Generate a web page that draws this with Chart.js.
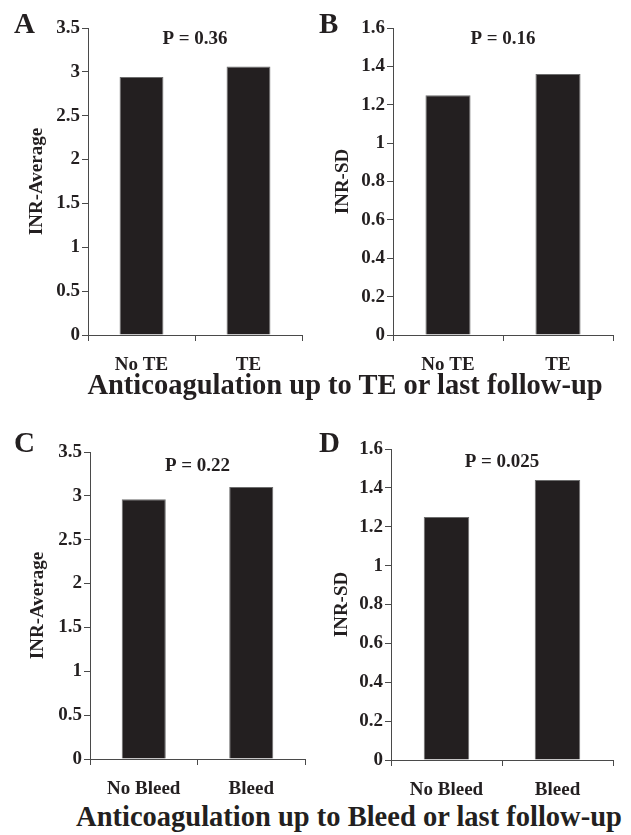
<!doctype html>
<html>
<head>
<title>INR bars</title>
<script src="https://cdn.jsdelivr.net/npm/chart.js@4.4.0/dist/chart.umd.min.js"></script>
<style>
body { margin: 0; background: #fff; }
#wrap { position: relative; width: 631px; height: 835px; background: #fff; font-family: "Liberation Serif", "Times New Roman", serif; color: #231f20; }
.panel { position: absolute; }
.letter { position: absolute; font-size: 29px; line-height: 29px; font-weight: bold; }
.title { position: absolute; font-size: 28.5px; line-height: 28.5px; font-weight: bold; text-align: center; white-space: nowrap; }
</style>
</head>
<body>
<div id="wrap">
    <div class="panel" style="left:0;top:0"><canvas id="chartA" width="310" height="372"></canvas></div>
    <div class="panel" style="left:310px;top:0"><canvas id="chartB" width="321" height="372"></canvas></div>
    <div class="panel" style="left:0;top:420px"><canvas id="chartC" width="310" height="375"></canvas></div>
    <div class="panel" style="left:310px;top:420px"><canvas id="chartD" width="321" height="375"></canvas></div>
    <div class="letter" style="left:14px;top:9px">A</div>
    <div class="letter" style="left:319px;top:9px">B</div>
    <div class="letter" style="left:14px;top:428px">C</div>
    <div class="letter" style="left:319px;top:428px">D</div>
    <div class="title" style="left:59px;width:572px;top:371px">Anticoagulation up to TE or last follow-up</div>
    <div class="title" style="left:67px;width:564px;top:803px">Anticoagulation up to Bleed or last follow-up</div>
</div>
<script>
// data
var teLabels = ["No TE", "TE"];
var bleedLabels = ["No Bleed", "Bleed"];
var avgTE = [2.94, 3.06];
var sdTE = [1.25, 1.36];
var avgBleed = [2.96, 3.10];
var sdBleed = [1.25, 1.44];
var avgTicks = [0, 0.5, 1, 1.5, 2, 2.5, 3, 3.5];
var sdTicks = [0, 0.2, 0.4, 0.6, 0.8, 1, 1.2, 1.4, 1.6];
var pValues = ["P = 0.36", "P = 0.16", "P = 0.22", "P = 0.025"];

var ink = '#231f20';
var axisColor = '#4a4a4a';
var fontName = "'Liberation Serif', 'Times New Roman', serif";

// P value text drawn inside the plot area
var pTextPlugin = {
    id: 'pText',
    afterDraw: function(chart, args, opts) {
        var ctx = chart.ctx, area = chart.chartArea;
        ctx.save();
        ctx.font = 'bold 19px ' + fontName;
        ctx.fillStyle = ink;
        ctx.textAlign = 'center';
        ctx.textBaseline = 'middle';
        ctx.fillText(opts.text, (area.left + area.right) / 2, area.top + opts.dy);
        ctx.restore();
    }
};

function makeChart(id, labels, values, ticks, yTitle, pText, pad, yWidth, xHeight, dy) {
    return new Chart(document.getElementById(id), {
        type: 'bar',
        data: {
            labels: labels,
            datasets: [{
                data: values,
                backgroundColor: ink,
                borderColor: '#6d6d6d',
                borderWidth: 1,
                categoryPercentage: 1,
                barPercentage: 0.41
            }]
        },
        plugins: [pTextPlugin],
        options: {
            responsive: false,
            animation: false,
            layout: { padding: pad },
            plugins: {
                legend: { display: false },
                tooltip: { enabled: false },
                pText: { text: pText, dy: dy }
            },
            scales: {
                x: {
                    offset: true,
                    grid: { display: true, offset: true, drawOnChartArea: false, drawTicks: true, tickLength: 6, color: axisColor, lineWidth: 1 },
                    border: { display: true, color: axisColor, width: 1 },
                    ticks: { color: ink, padding: 13, font: { family: fontName, size: 19, weight: 'bold' } },
                    afterFit: function(scale) { scale.height = xHeight; }
                },
                y: {
                    min: ticks[0],
                    max: ticks[ticks.length - 1],
                    afterBuildTicks: function(scale) {
                        scale.ticks = ticks.map(function(v) { return { value: v }; });
                    },
                    grid: { display: true, drawOnChartArea: false, drawTicks: true, tickLength: 6, color: axisColor, lineWidth: 1 },
                    border: { display: true, color: axisColor, width: 1 },
                    ticks: {
                        color: ink, padding: 2,
                        font: { family: fontName, size: 19, weight: 'bold' },
                        callback: function(v) { return String(v); }
                    },
                    title: { display: true, text: yTitle, color: ink, padding: 0, font: { family: fontName, size: 19, weight: 'bold' } },
                    afterFit: function(scale) { scale.width = yWidth; }
                }
            }
        }
    });
}

window.onload = function() {
    makeChart('chartA', teLabels, avgTE, avgTicks, 'INR-Average', pValues[0], { top: 28, left: 26, right: 8, bottom: 0 }, 62, 37, 11);
    makeChart('chartB', teLabels, sdTE, sdTicks, 'INR-SD', pValues[1], { top: 28, left: 22, right: 18, bottom: 0 }, 61, 37, 11);
    makeChart('chartC', bleedLabels, avgBleed, avgTicks, 'INR-Average', pValues[2], { top: 32, left: 27, right: 5, bottom: 0 }, 63, 36, 14);
    makeChart('chartD', bleedLabels, sdBleed, sdTicks, 'INR-SD', pValues[3], { top: 29, left: 21, right: 18, bottom: 0 }, 60, 35, 13);
};
</script>
</body>
</html>
